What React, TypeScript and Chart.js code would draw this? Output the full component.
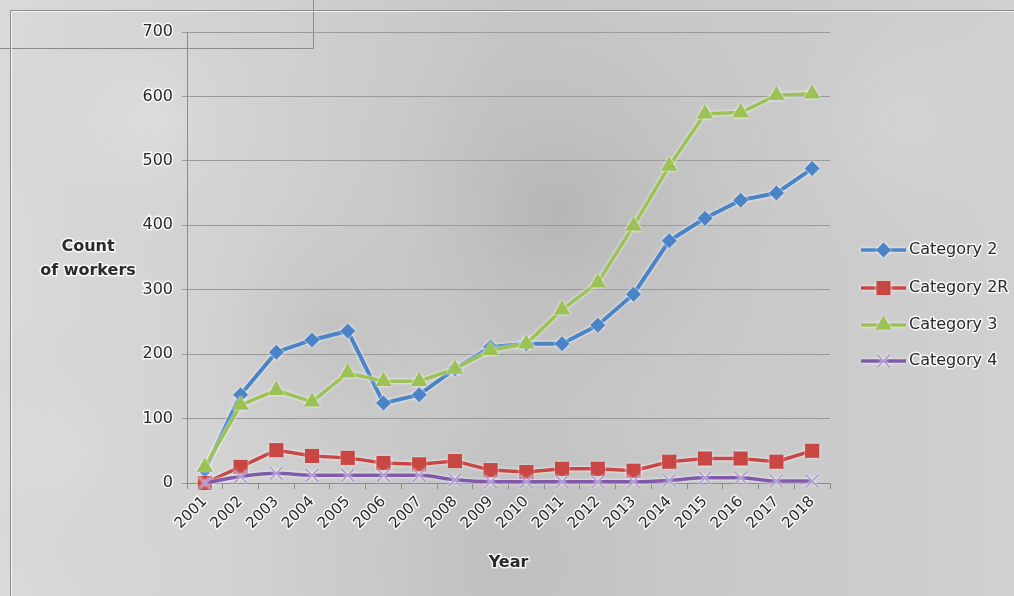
import React, { useEffect, useRef } from "react";
import { Chart, registerables } from "chart.js";

Chart.register(...registerables);

const years = ["2001", "2002", "2003", "2004", "2005", "2006", "2007", "2008", "2009", "2010", "2011", "2012", "2013", "2014", "2015", "2016", "2017", "2018"];
const category2 = [20, 137, 203, 222, 236, 124, 137, 177, 211, 216, 216, 245, 293, 376, 411, 439, 450, 488];
const category2R = [0, 25, 51, 42, 39, 31, 29, 34, 20, 17, 22, 22, 19, 33, 38, 38, 33, 50];
const category3 = [25, 121, 144, 126, 171, 158, 158, 177, 206, 216, 269, 311, 399, 492, 573, 575, 602, 604];
const category4 = [0, 10, 15, 12, 12, 12, 12, 5, 2, 2, 2, 2, 2, 4, 8, 8, 3, 3];
const yTicks = [0, 100, 200, 300, 400, 500, 600, 700];
const seriesNames = ["Category 2", "Category 2R", "Category 3", "Category 4"];
const yTitle = ["Count", "of workers"];
const xTitle = "Year";

const FONT = "'DejaVu Sans', 'Liberation Sans', sans-serif";
const TEXT = "#2a2a2a";
const GLOW = "rgba(255,255,255,0.85)";

function glowText(ctx: CanvasRenderingContext2D, s: string, x: number, y: number) {
  ctx.lineJoin = "round";
  ctx.lineWidth = 3;
  ctx.strokeStyle = GLOW;
  ctx.strokeText(s, x, y);
  ctx.fillStyle = TEXT;
  ctx.fillText(s, x, y);
}

function drawMarker(ctx: CanvasRenderingContext2D, style: string, x: number, y: number, r: number, fill: string, stroke: string, lw: number) {
  ctx.save();
  ctx.fillStyle = fill;
  ctx.strokeStyle = stroke;
  ctx.lineWidth = lw;
  ctx.beginPath();
  if (style === "rectRot") {
    ctx.moveTo(x, y - r);
    ctx.lineTo(x + r, y);
    ctx.lineTo(x, y + r);
    ctx.lineTo(x - r, y);
    ctx.closePath();
    ctx.fill();
  } else if (style === "rect") {
    const s = r * Math.SQRT1_2;
    ctx.rect(x - s, y - s, 2 * s, 2 * s);
    ctx.fill();
  } else if (style === "triangle") {
    ctx.moveTo(x, y - r);
    ctx.lineTo(x + r * 0.866, y + r * 0.5);
    ctx.lineTo(x - r * 0.866, y + r * 0.5);
    ctx.closePath();
    ctx.fill();
  } else if (style === "crossRot") {
    const s = r * Math.SQRT1_2;
    ctx.moveTo(x - s, y - s);
    ctx.lineTo(x + s, y + s);
    ctx.moveTo(x - s, y + s);
    ctx.lineTo(x + s, y - s);
    ctx.stroke();
  }
  ctx.restore();
}

const bgPlugin = {
  id: "bgPlugin",
  beforeDraw(chart: any) {
    const { ctx, width, height } = chart;
    ctx.save();
    const g = ctx.createLinearGradient(0, 0, width, 0);
    g.addColorStop(0, "#d9d9d9");
    g.addColorStop(0.2, "#d3d3d3");
    g.addColorStop(0.5, "#c6c6c6");
    g.addColorStop(0.75, "#c9c9c9");
    g.addColorStop(1, "#d0d0d0");
    ctx.fillStyle = g;
    ctx.fillRect(0, 0, width, height);
    const blobs = [
      [560, 210, 260, "rgba(150,150,150,0.35)"],
      [330, 330, 160, "rgba(160,160,160,0.25)"],
      [150, 120, 160, "rgba(235,235,235,0.35)"],
      [900, 120, 180, "rgba(225,225,225,0.3)"],
      [500, 560, 300, "rgba(170,170,170,0.25)"],
      [60, 450, 140, "rgba(225,225,225,0.3)"],
    ];
    for (const [x, y, r, c] of blobs as any) {
      const rg = ctx.createRadialGradient(x, y, 0, x, y, r);
      rg.addColorStop(0, c);
      rg.addColorStop(1, "rgba(200,200,200,0)");
      ctx.fillStyle = rg;
      ctx.fillRect(0, 0, width, height);
    }
    // decorative frame lines
    ctx.strokeStyle = "#8c8c8c";
    ctx.lineWidth = 1;
    ctx.beginPath();
    ctx.moveTo(10.5, 10.5);
    ctx.lineTo(width, 10.5);
    ctx.moveTo(10.5, 10.5);
    ctx.lineTo(10.5, height);
    ctx.moveTo(0, 48.5);
    ctx.lineTo(313.5, 48.5);
    ctx.lineTo(313.5, 0);
    ctx.stroke();
    ctx.strokeStyle = "rgba(255,255,255,0.7)";
    ctx.beginPath();
    ctx.moveTo(11.5, 11.5);
    ctx.lineTo(width, 11.5);
    ctx.moveTo(11.5, 11.5);
    ctx.lineTo(11.5, height);
    ctx.stroke();
    ctx.restore();
  },
  beforeDatasetsDraw(chart: any) {
    const ctx = chart.ctx;
    ctx.save();
    ctx.shadowColor = "rgba(255,255,255,0.9)";
    ctx.shadowBlur = 3;
  },
  afterDatasetsDraw(chart: any) {
    chart.ctx.restore();
  },
  afterDraw(chart: any) {
    const { ctx, chartArea } = chart;
    ctx.save();
    // axis titles
    ctx.font = `bold 16px ${FONT}`;
    ctx.textAlign = "center";
    ctx.textBaseline = "middle";
    glowText(ctx, yTitle[0], 88, 247);
    glowText(ctx, yTitle[1], 88, 271);
    glowText(ctx, xTitle, (chartArea.left + chartArea.right) / 2, 563);
    // legend
    ctx.font = `16px ${FONT}`;
    ctx.textAlign = "left";
    const ys = [250, 288, 325, 361];
    chart.data.datasets.forEach((ds: any, i: number) => {
      const y = ys[i];
      ctx.save();
      ctx.shadowColor = "rgba(255,255,255,0.9)";
      ctx.shadowBlur = 3;
      ctx.strokeStyle = ds.borderColor;
      ctx.lineWidth = 3.5;
      ctx.beginPath();
      ctx.moveTo(861, y);
      ctx.lineTo(906, y);
      ctx.stroke();
      drawMarker(ctx, ds.pointStyle, 883.5, y, ds.pointRadius, ds.pointBackgroundColor, ds.pointBorderColor, Math.max(ds.pointBorderWidth, 1.5));
      ctx.restore();
      glowText(ctx, seriesNames[i], 909, y);
    });
    ctx.restore();
  },
};

export default function App() {
  const ref = useRef<HTMLCanvasElement | null>(null);
  useEffect(() => {
    if (!ref.current) return;
    const tickFontY = { family: FONT, size: 16 };
    const tickFontX = { family: FONT, size: 15 };
    const chart = new Chart(ref.current, {
      type: "line",
      data: {
        labels: years,
        datasets: [
          {
            label: seriesNames[0],
            data: category2,
            borderColor: "#4a84c6",
            backgroundColor: "#4a84c6",
            borderWidth: 4,
            pointStyle: "rectRot",
            pointRadius: 7.5,
            pointBackgroundColor: "#4a84c6",
            pointBorderColor: "#4a84c6",
            pointBorderWidth: 0,
            tension: 0,
            clip: false,
            order: 4,
          },
          {
            label: seriesNames[1],
            data: category2R,
            borderColor: "#c84744",
            backgroundColor: "#c84744",
            borderWidth: 3.5,
            pointStyle: "rect",
            pointRadius: 10,
            pointBackgroundColor: "#c84744",
            pointBorderColor: "#c84744",
            pointBorderWidth: 0,
            tension: 0,
            clip: false,
            order: 3,
          },
          {
            label: seriesNames[2],
            data: category3,
            borderColor: "#9cc154",
            backgroundColor: "#9cc154",
            borderWidth: 3.5,
            pointStyle: "triangle",
            pointRadius: 9.5,
            pointBackgroundColor: "#9cc154",
            pointBorderColor: "#9cc154",
            pointBorderWidth: 0,
            tension: 0,
            clip: false,
            order: 2,
          },
          {
            label: seriesNames[3],
            data: category4,
            borderColor: "#8059ab",
            backgroundColor: "#8059ab",
            borderWidth: 3.5,
            pointStyle: "crossRot",
            pointRadius: 9,
            pointBackgroundColor: "#ad9bd3",
            pointBorderColor: "#ad9bd3",
            pointBorderWidth: 1.5,
            cubicInterpolationMode: "monotone",
            clip: false,
            order: 1,
          },
        ],
      },
      options: {
        animation: false,
        responsive: false,
        layout: { padding: { left: 0, top: 32, right: 184, bottom: 0 } },
        plugins: { legend: { display: false }, tooltip: { enabled: false } },
        scales: {
          x: {
            offset: true,
            grid: { drawOnChartArea: false, drawTicks: true, tickLength: 6, color: "#8c8c8c", offset: true },
            border: { color: "#8c8c8c", width: 1 },
            ticks: {
              autoSkip: false,
              minRotation: 45,
              maxRotation: 45,
              font: tickFontX,
              color: TEXT,
              textStrokeColor: GLOW,
              textStrokeWidth: 3,
              padding: 4,
            },
            afterFit(s: any) {
              s.height = 113;
            },
          },
          y: {
            min: 0,
            max: 700,
            afterBuildTicks(s: any) {
              s.ticks = yTicks.map((v) => ({ value: v }));
            },
            grid: { color: "#9a9a9a", lineWidth: 1, tickLength: 5 },
            border: { color: "#8c8c8c", width: 1 },
            ticks: {
              font: tickFontY,
              color: TEXT,
              textStrokeColor: GLOW,
              textStrokeWidth: 3,
              padding: 9,
            },
            afterFit(s: any) {
              s.width = 187;
            },
          },
        },
      },
      plugins: [bgPlugin],
    } as any);
    return () => chart.destroy();
  }, []);
  return (
    <div style={{ position: "fixed", left: 0, top: 0, width: 1014, height: 596 }}>
      <canvas ref={ref} width={1014} height={596} style={{ width: 1014, height: 596, display: "block" }} />
    </div>
  );
}
